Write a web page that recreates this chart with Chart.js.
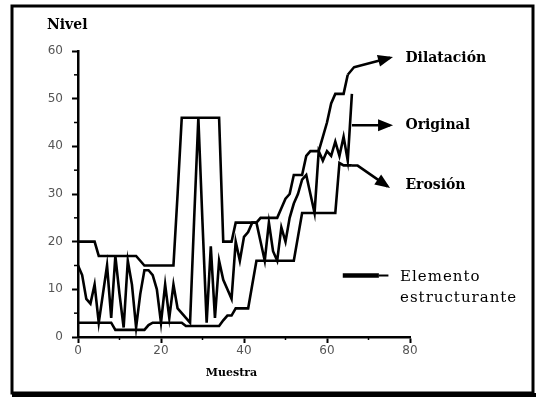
<!DOCTYPE html>
<html lang="es">
<head>
<meta charset="UTF-8">
<title>Dilatación y erosión</title>
<script src="https://cdn.jsdelivr.net/npm/chart.js"></script>
<style>
    body { margin: 0; background: #fff; }
    #wrap { width: 536px; height: 403px; }
</style>
</head>
<body>
<div id="wrap"><canvas id="grafico" width="536" height="403"></canvas></div>
<script>
    // muestras 0..66
    const muestras = Array.from({ length: 67 }, (_, i) => i);

    // señal original
    const original = [15, 13, 8, 7, 11, 3, 9, 15, 4, 17,
                      9, 2, 16, 11, 2, 9, 14, 14, 13, 10,
                      3, 11, 4, 11, 6, 5, 4, 3, 25, 46,
                      24, 3, 19, 4, 16, 12, 10, 8, 20, 16,
                      21, 22, 24, 24, 20, 16, 24, 18, 16, 23,
                      20, 25, 28, 30, 33, 34, 30, 26, 39, 37,
                      39, 38, 41, 38, 42, 37, 51];

    // dilatación (envolvente superior)
    const dilatacion = [20, 20, 20, 20, 20, 17, 17, 17, 17, 17,
                        17, 17, 17, 17, 17, 16, 15, 15, 15, 15,
                        15, 15, 15, 15, 30, 46, 46, 46, 46, 46,
                        46, 46, 46, 46, 46, 20, 20, 20, 24, 24,
                        24, 24, 24, 24, 25, 25, 25, 25, 25, 27,
                        29, 30, 34, 34, 34, 38, 39, 39, 39, 42,
                        45, 49, 51, 51, 51, 55];

    // erosión (envolvente inferior)
    const erosion = [3, 3, 3, 3, 3, 3, 3, 3, 3, 1.5,
                     1.5, 1.5, 1.5, 1.5, 1.5, 1.5, 1.5, 2.5, 3, 3,
                     3, 3, 3, 3, 3, 3, 2.3, 2.3, 2.3, 2.3,
                     2.3, 2.3, 2.3, 2.3, 2.3, 3.5, 4.5, 4.5, 6, 6,
                     6, 6, 11, 16, 16, 16, 16, 16, 16, 16,
                     16, 16, 16, 21, 26, 26, 26, 26, 26, 26,
                     26, 26, 26, 36.5, 36, 36, 36];

    const ticksX = [0, 20, 40, 60, 80];
    const ticksY = [0, 10, 20, 30, 40, 50, 60];

    const toXY = serie => serie.map((v, i) => ({ x: muestras[i], y: v }));

    function flecha(ctx, pts, cabeza) {
        ctx.beginPath();
        ctx.moveTo(pts[0][0], pts[0][1]);
        for (let k = 1; k < pts.length; k++) ctx.lineTo(pts[k][0], pts[k][1]);
        ctx.stroke();
        const [x1, y1] = pts[pts.length - 2];
        const [x2, y2] = pts[pts.length - 1];
        const a = Math.atan2(y2 - y1, x2 - x1);
        ctx.beginPath();
        ctx.moveTo(x2 + 3 * Math.cos(a), y2 + 3 * Math.sin(a));
        ctx.lineTo(x2 - cabeza * Math.cos(a) + 6 * Math.sin(a), y2 - cabeza * Math.sin(a) - 6 * Math.cos(a));
        ctx.lineTo(x2 - cabeza * Math.cos(a) - 6 * Math.sin(a), y2 - cabeza * Math.sin(a) + 6 * Math.cos(a));
        ctx.closePath();
        ctx.fill();
    }

    const anotaciones = {
        id: 'anotaciones',
        afterDraw(chart) {
            const ctx = chart.ctx;
            const xs = chart.scales.x, ys = chart.scales.y;
            const X = v => xs.getPixelForValue(v);
            const Y = v => ys.getPixelForValue(v);
            ctx.save();
            ctx.strokeStyle = '#000';
            ctx.fillStyle = '#000';

            // marcas menores
            ctx.lineWidth = 1.5;
            for (let v = 5; v < 60; v += 10) {
                ctx.beginPath(); ctx.moveTo(X(0) - 4, Y(v)); ctx.lineTo(X(0), Y(v)); ctx.stroke();
            }
            for (let v = 10; v < 80; v += 20) {
                ctx.beginPath(); ctx.moveTo(X(v), Y(0)); ctx.lineTo(X(v), Y(0) + 3); ctx.stroke();
            }

            // marco
            ctx.lineWidth = 3;
            ctx.strokeRect(12, 6, 521, 387);
            ctx.lineWidth = 4;
            ctx.beginPath(); ctx.moveTo(12, 395); ctx.lineTo(536, 395); ctx.stroke();

            // flechas
            ctx.lineWidth = 2.5;
            ctx.lineJoin = 'round';
            flecha(ctx, [[X(65), Y(55)], [X(66.5), Y(56.6)], [X(75.2), Y(58.6)]], 12);
            flecha(ctx, [[X(66), Y(44.4)], [X(75.2), Y(44.4)]], 12);
            flecha(ctx, [[X(66), Y(36)], [X(67.3), Y(36)], [X(74.6), Y(31.6)]], 12);

            // elemento estructurante
            ctx.lineWidth = 4.5;
            ctx.beginPath(); ctx.moveTo(X(63.8), Y(12.9)); ctx.lineTo(X(72.5), Y(12.9)); ctx.stroke();
            ctx.lineWidth = 2;
            ctx.beginPath(); ctx.moveTo(X(72.5), Y(12.9)); ctx.lineTo(X(74.8), Y(12.9)); ctx.stroke();

            // textos
            ctx.textBaseline = 'middle';
            ctx.textAlign = 'left';
            ctx.font = 'bold 14px "DejaVu Serif"';
            ctx.fillText('Dilatación', X(78.9), Y(58.5));
            ctx.fillText('Original', X(78.9), Y(44.5));
            ctx.fillText('Erosión', X(78.9), Y(31.9));
            ctx.fillText('Nivel', 47, 25);

            ctx.font = '15px "DejaVu Serif"';
            ctx.letterSpacing = '1px';
            ctx.fillText('Elemento', X(77.6), Y(12.6));
            ctx.fillText('estructurante', X(77.6), Y(8.2));
            ctx.letterSpacing = '0px';

            ctx.textAlign = 'center';
            ctx.font = 'bold 11px "DejaVu Serif"';
            ctx.fillText('Muestra', X(37), 373);
            ctx.restore();
        }
    };

    const linea = (label, serie) => ({
        label,
        data: toXY(serie),
        borderColor: '#000',
        borderWidth: 2.6,
        pointRadius: 0,
        tension: 0,
        fill: false
    });

    new Chart(document.getElementById('grafico'), {
        type: 'line',
        data: {
            datasets: [
                linea('Dilatación', dilatacion),
                linea('Original', original),
                linea('Erosión', erosion)
            ]
        },
        options: {
            responsive: false,
            animation: false,
            layout: { padding: { left: 0, top: 51, right: 126, bottom: 0 } },
            plugins: { legend: { display: false }, tooltip: { enabled: false } },
            scales: {
                x: {
                    type: 'linear',
                    min: 0, max: 80,
                    afterFit: s => { s.height = 66; },
                    afterBuildTicks: s => { s.ticks = ticksX.map(v => ({ value: v })); },
                    border: { display: true, color: '#000', width: 2.5 },
                    grid: { drawOnChartArea: false, drawTicks: true, tickLength: 6, tickWidth: 2, tickColor: '#000' },
                    ticks: { color: '#555', font: { family: 'DejaVu Sans', size: 12 }, padding: 1 }
                },
                y: {
                    min: 0, max: 60,
                    afterFit: s => { s.width = 78; },
                    afterBuildTicks: s => { s.ticks = ticksY.map(v => ({ value: v })); },
                    border: { display: true, color: '#000', width: 2.5 },
                    grid: { drawOnChartArea: false, drawTicks: true, tickLength: 6, tickWidth: 2, tickColor: '#000' },
                    ticks: { color: '#555', font: { family: 'DejaVu Sans', size: 12 }, padding: 9 }
                }
            }
        },
        plugins: [anotaciones]
    });
</script>
</body>
</html>
